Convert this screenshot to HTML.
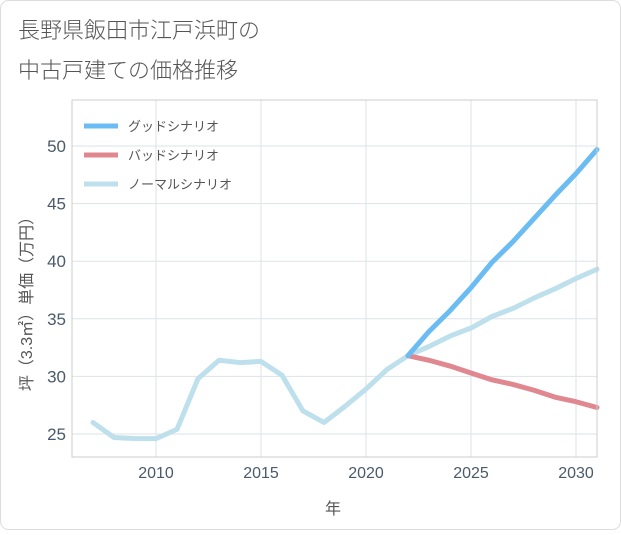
<!DOCTYPE html>
<html><head><meta charset="utf-8"><style>
body{margin:0;background:#fff;}
svg text{font-family:"Liberation Sans","Noto Sans CJK JP",sans-serif;}
</style></head><body>
<svg width="621" height="530" xmlns="http://www.w3.org/2000/svg">
<rect x="0.5" y="0.5" width="620" height="529" rx="8" fill="#fff" stroke="#ddd"/>
<text x="18" y="38" font-size="22" fill="#555" font-weight="300">長野県飯田市江戸浜町の</text>
<text x="18" y="78" font-size="22" fill="#555" font-weight="300">中古戸建ての価格推移</text>
<g id="grid"></g><g id="axes"></g><g id="lines"></g>
<rect x="72" y="100" width="525" height="357" fill="none" stroke="#ccc"/>
<g>
<line x1="84" y1="126" x2="118" y2="126" stroke="#6bbcf2" stroke-width="5"/>
<text x="128" y="131" font-size="13" fill="#555">グッドシナリオ</text>
<line x1="84" y1="155" x2="118" y2="155" stroke="#e0878f" stroke-width="5"/>
<text x="128" y="160" font-size="13" fill="#555">バッドシナリオ</text>
<line x1="84" y1="184" x2="118" y2="184" stroke="#bde0ec" stroke-width="5"/>
<text x="128" y="189" font-size="13" fill="#555">ノーマルシナリオ</text>
</g>
<text x="333" y="514" font-size="16" fill="#555" text-anchor="middle">年</text>
<text transform="translate(32,300) rotate(-90)" font-size="16" fill="#555" text-anchor="middle">坪（3.3㎡）単価（万円）</text>
</svg>
<script>
const years=[2007,2008,2009,2010,2011,2012,2013,2014,2015,2016,2017,2018,2019,2020,2021,2022,2023,2024,2025,2026,2027,2028,2029,2030,2031];
const normal=[26.0,24.7,24.6,24.6,25.4,29.8,31.4,31.2,31.3,30.1,27.0,26.0,27.4,28.9,30.6,31.8,32.6,33.5,34.2,35.2,35.9,36.8,37.6,38.5,39.3];
const futureYears=[2022,2023,2024,2025,2026,2027,2028,2029,2030,2031];
const good=[31.8,33.9,35.7,37.7,39.9,41.7,43.7,45.7,47.6,49.7];
const bad=[31.8,31.4,30.9,30.3,29.7,29.3,28.8,28.2,27.8,27.3];
const xTicks=[2010,2015,2020,2025,2030];
const yTicks=[25,30,35,40,45,50];
const NS="http://www.w3.org/2000/svg";
const x=v=>72+(v-2006)*21;
const y=v=>434-(v-25)*11.52;
function mk(t,a,p){const e=document.createElementNS(NS,t);for(const k in a)e.setAttribute(k,a[k]);p.appendChild(e);return e;}
const g=document.getElementById('grid'),ax=document.getElementById('axes'),ln=document.getElementById('lines');
xTicks.forEach(t=>{
const l=mk('line',{x1:x(t),x2:x(t),y1:100,y2:457,stroke:'#dde3ea'},g);


const tx=mk('text',{x:x(t),y:478,'font-size':16,fill:'#4a5a6a','text-anchor':'middle'},ax);tx.textContent=t;


});
yTicks.forEach(t=>{
const l=mk('line',{x1:72,x2:597,y1:y(t),y2:y(t),stroke:'#dde3ea'},g);


const tx=mk('text',{x:66,y:y(t)+6,'font-size':17,fill:'#4a5a6a','text-anchor':'end'},ax);tx.textContent=t;


});
function path(xs,ys,c,name){
const p=mk('path',{d:xs.map((v,i)=>(i?'L':'M')+x(v)+','+y(ys[i])).join(''),fill:'none',stroke:c,'stroke-width':5,'stroke-linejoin':'round','stroke-linecap':'round'},ln);


}
path(years,normal,'#bde0ec','normal-line');
path(futureYears,bad,'#e0878f','bad-line');
path(futureYears,good,'#6bbcf2','good-line');
</script>
</body></html>
